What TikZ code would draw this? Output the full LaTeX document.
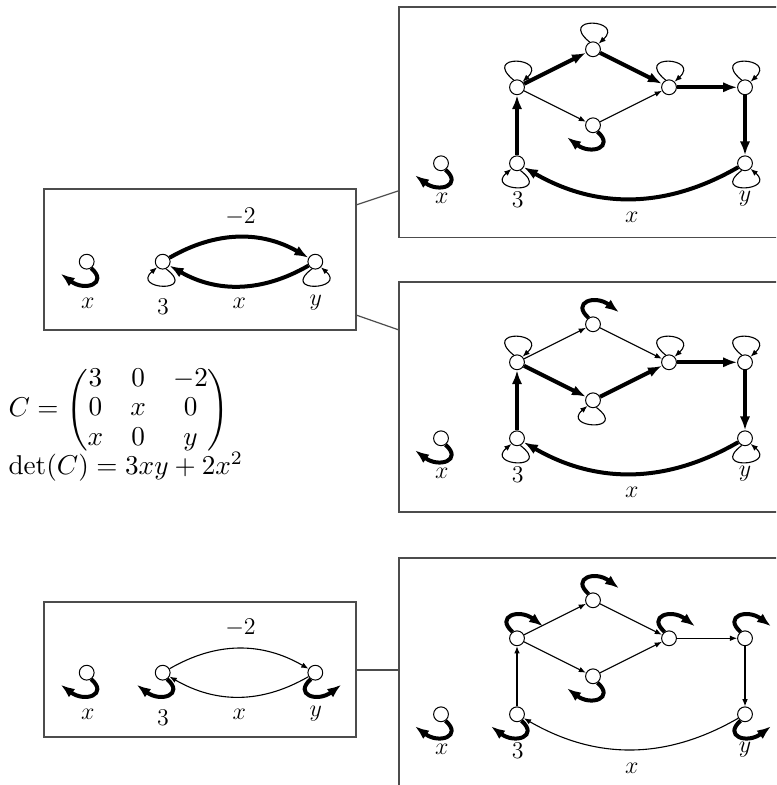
\documentclass[tikz,border=0pt]{standalone}
\usepackage{amsmath}
\usetikzlibrary{arrows.meta,calc}
\pgfdeclarelayer{bg}
\pgfsetlayers{bg,main}
\tikzset{
  vtx/.style={circle,draw,fill=white,line width=0.5pt,minimum size=7.4pt,inner sep=0pt},
  thinedge/.style={line width=0.55pt,-{Latex[length=3.6pt,width=2.8pt]}},
  thickedge/.style={line width=2pt,-{Latex[length=7pt,width=5.2pt]}},
  panel/.style={draw=black!70,line width=0.6pt},
  rlbl/.style={inner sep=0pt,font=\fontsize{11.5pt}{13pt}\selectfont},
  llbl/.style={inner sep=0pt,font=\large},
  mathtxt/.style={anchor=west,inner sep=0pt,scale=1.36},
}
% loops: T = thin, K = thick; B = below, A = above; R/L = side of the arrow
\newcommand\lpTBR[1]{\draw[thinedge] (#1.-115) .. controls ($(#1)+(-36,-32)$) and ($(#1)+(32,-28)$) .. (#1.-45);}
\newcommand\lpTBL[1]{\draw[thinedge] (#1.-65) .. controls ($(#1)+(36,-32)$) and ($(#1)+(-32,-28)$) .. (#1.-135);}
\newcommand\lpTAR[1]{\draw[thinedge] (#1.115) .. controls ($(#1)+(-36,34)$) and ($(#1)+(32,30)$) .. (#1.45);}
\newcommand\lpKBL[1]{\draw[thickedge] (#1.-55) .. controls ($(#1)+(22,-22)$) and ($(#1)+(-2,-30)$) .. ($(#1)+(-26,-12)$);}
\newcommand\lpKBR[1]{\draw[thickedge] (#1.-125) .. controls ($(#1)+(-22,-22)$) and ($(#1)+(2,-30)$) .. ($(#1)+(26,-12)$);}
\newcommand\lpKAR[1]{\draw[thickedge] (#1.125) .. controls ($(#1)+(-22,22)$) and ($(#1)+(2,30)$) .. ($(#1)+(26,12)$);}
% nodes and labels of a right-hand graph
\newcommand\rnodes[2]{%
  \node[vtx] (#1x) at (441,#2) {};
  \node[vtx] (#13) at (517,#2) {};
  \node[vtx] (#1a) at (517,#2+76) {};
  \node[vtx] (#1b) at (593,#2+114) {};
  \node[vtx] (#1c) at (593,#2+38) {};
  \node[vtx] (#1d) at (669,#2+76) {};
  \node[vtx] (#1e) at (745,#2+76) {};
  \node[vtx] (#1y) at (745,#2) {};
  \node[rlbl] (#1lx) at (441.7,#2-35) {$x$};
  \node[rlbl] (#1l3) at (517.7,#2-36) {$3$};
  \node[rlbl] (#1ly) at (745,#2-35) {$y$};
  \node[rlbl] (#1lm) at (631.7,#2-54) {$x$};
}
\newcommand\lnodes[2]{%
  \node[vtx] (#1x) at (86.7,#2) {};
  \node[vtx] (#13) at (162.7,#2) {};
  \node[vtx] (#1y) at (315.3,#2) {};
  \node[llbl] (#1lx) at (87.7,#2-41.6) {$x$};
  \node[llbl] (#1l3) at (163,#2-45) {$3$};
  \node[llbl] (#1ly) at (315.7,#2-40.8) {$y$};
  \node[llbl] (#1lm) at (239.3,#2-41.6) {$x$};
  \node[llbl] (#1lt) at (240.5,#2+44.5) {$-2$};
}
\begin{document}
\begin{tikzpicture}[x=0.5pt,y=0.5pt]
\useasboundingbox (0,0) rectangle (776,785);
\clip (0,0) rectangle (776,785);

% panels
\draw[panel] (44,455) rectangle (356,596);
\draw[panel] (399,547.7) rectangle (800,778);
\draw[panel] (399,273) rectangle (800,503);
\draw[panel] (44,48) rectangle (356,183);
\draw[panel] (399,-20) rectangle (800,227);

% panel connectors
\coordinate (k1a) at (356,580);   \coordinate (k1b) at (399,594.3);
\coordinate (k2a) at (356,470);   \coordinate (k2b) at (399,455);
\coordinate (k3a) at (356,115);   \coordinate (k3b) at (399,115);
\draw[panel] (k1a) -- (k1b);
\draw[panel] (k2a) -- (k2b);
\draw[panel] (k3a) -- (k3b);

% matrix and determinant
\node[mathtxt] (mat) at (8,375)
  {\renewcommand{\arraystretch}{0.9}$C=\begin{pmatrix}3&0&-2\\0&x&0\\x&0&y\end{pmatrix}$};
\node[mathtxt] (det) at (8,318) {$\det(C)=3xy+2x^2$};

% ---------- nodes ----------
\lnodes{s}{523.3}
\lnodes{t}{112.3}
\rnodes{p}{621.7}
\rnodes{q}{346.7}
\rnodes{r}{70.7}

\begin{pgfonlayer}{bg}
% ---------- top-left graph ----------
\draw[thickedge] (s3) to[bend left=30] (sy);
\draw[thickedge] (sy) to[bend left=30] (s3);
\lpKBL{sx} \lpTBL{s3} \lpTBR{sy}

% ---------- bottom-left graph ----------
\draw[thinedge] (t3) to[bend left=30] (ty);
\draw[thinedge] (ty) to[bend left=30] (t3);
\lpKBL{tx} \lpKBL{t3} \lpKBR{ty}

% ---------- graph p ----------
\draw[thickedge] (p3) -- (pa);
\draw[thickedge] (pa) -- (pb);
\draw[thickedge] (pb) -- (pd);
\draw[thinedge] (pa) -- (pc);
\draw[thinedge] (pc) -- (pd);
\draw[thickedge] (pd) -- (pe);
\draw[thickedge] (pe) -- (py);
\draw[thickedge] (py) to[bend left=30] (p3);
\lpKBL{px} \lpTBL{p3} \lpTAR{pa} \lpTAR{pb} \lpKBL{pc} \lpTAR{pd} \lpTAR{pe} \lpTBR{py}

% ---------- graph q ----------
\draw[thickedge] (q3) -- (qa);
\draw[thinedge] (qa) -- (qb);
\draw[thinedge] (qb) -- (qd);
\draw[thickedge] (qa) -- (qc);
\draw[thickedge] (qc) -- (qd);
\draw[thickedge] (qd) -- (qe);
\draw[thickedge] (qe) -- (qy);
\draw[thickedge] (qy) to[bend left=30] (q3);
\lpKBL{qx} \lpTBL{q3} \lpTAR{qa} \lpKAR{qb} \lpTBL{qc} \lpTAR{qd} \lpTAR{qe} \lpTBR{qy}

% ---------- graph r ----------
\draw[thinedge] (r3) -- (ra);
\draw[thinedge] (ra) -- (rb);
\draw[thinedge] (rb) -- (rd);
\draw[thinedge] (ra) -- (rc);
\draw[thinedge] (rc) -- (rd);
\draw[thinedge] (rd) -- (re);
\draw[thinedge] (re) -- (ry);
\draw[thinedge] (ry) to[bend left=30] (r3);
\lpKBL{rx} \lpKBL{r3} \lpKAR{ra} \lpKAR{rb} \lpKBL{rc} \lpKAR{rd} \lpKAR{re} \lpKBR{ry}
\end{pgfonlayer}
\end{tikzpicture}
\end{document}
